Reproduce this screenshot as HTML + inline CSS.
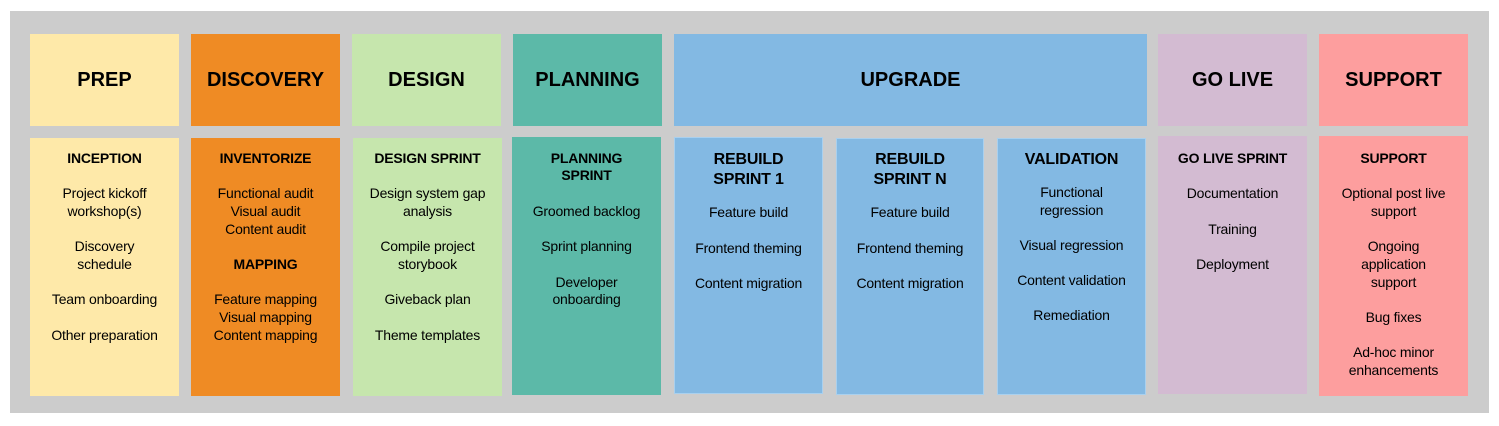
<!DOCTYPE html>
<html><head><meta charset="utf-8"><style>
body{margin:0;width:1499px;height:426px;background:#fff;position:relative;overflow:hidden;font-family:"Liberation Sans",Arial,sans-serif;color:#000}
.bg{position:absolute;left:10px;top:11px;width:1479px;height:402px;background:#cccccc}
.b{position:absolute}
.h{position:absolute;top:34px;height:92px;line-height:92px;text-align:center;font-weight:bold;font-size:20px;color:#000}
.t{position:absolute;text-align:center;font-size:14px;line-height:18px;height:18px;white-space:nowrap;letter-spacing:-0.2px}
.bd{font-weight:bold}
.b16{font-weight:bold;font-size:16px}
</style></head><body>
<div class="bg"></div>
<div class="h" style="left:30px;width:149px;background:#fee9a9">PREP</div>
<div class="h" style="left:191px;width:149px;background:#ef8b24">DISCOVERY</div>
<div class="h" style="left:352px;width:149px;background:#c6e6ad">DESIGN</div>
<div class="h" style="left:513px;width:149px;background:#5cb9a8">PLANNING</div>
<div class="h" style="left:674px;width:473px;background:#83b9e3">UPGRADE</div>
<div class="h" style="left:1158px;width:149px;background:#d3bbd2">GO LIVE</div>
<div class="h" style="left:1319px;width:149px;background:#fd9e9e">SUPPORT</div>
<div class="b" style="left:30px;top:138px;width:149px;height:258px;background:#fee9a9"></div>
<div class="b" style="left:191px;top:138px;width:149px;height:258px;background:#ef8b24"></div>
<div class="b" style="left:353px;top:138px;width:149px;height:258px;background:#c6e6ad"></div>
<div class="b" style="left:512px;top:137px;width:149px;height:258px;background:#5cb9a8"></div>
<div class="b" style="left:675px;top:138px;width:147px;height:255px;background:#83b9e3;outline:1px solid #a9d0ee"></div>
<div class="b" style="left:837px;top:139px;width:146px;height:255px;background:#83b9e3;outline:1px solid #a9d0ee"></div>
<div class="b" style="left:998px;top:139px;width:147px;height:255px;background:#83b9e3;outline:1px solid #a9d0ee"></div>
<div class="b" style="left:1158px;top:136px;width:149px;height:258px;background:#d3bbd2"></div>
<div class="b" style="left:1319px;top:136px;width:149px;height:260px;background:#fd9e9e"></div>

<div class="t bd" style="left:30px;width:149px;top:149px">INCEPTION</div>
<div class="t" style="left:30px;width:149px;top:184px">Project kickoff</div>
<div class="t" style="left:30px;width:149px;top:202px">workshop(s)</div>
<div class="t" style="left:30px;width:149px;top:237px">Discovery</div>
<div class="t" style="left:30px;width:149px;top:255px">schedule</div>
<div class="t" style="left:30px;width:149px;top:290px">Team onboarding</div>
<div class="t" style="left:30px;width:149px;top:326px">Other preparation</div>
<div class="t bd" style="left:191px;width:149px;top:149px">INVENTORIZE</div>
<div class="t" style="left:191px;width:149px;top:184px">Functional audit</div>
<div class="t" style="left:191px;width:149px;top:202px">Visual audit</div>
<div class="t" style="left:191px;width:149px;top:220px">Content audit</div>
<div class="t bd" style="left:191px;width:149px;top:255px">MAPPING</div>
<div class="t" style="left:191px;width:149px;top:290px">Feature mapping</div>
<div class="t" style="left:191px;width:149px;top:308px">Visual mapping</div>
<div class="t" style="left:191px;width:149px;top:326px">Content mapping</div>
<div class="t bd" style="left:353px;width:149px;top:149px">DESIGN SPRINT</div>
<div class="t" style="left:353px;width:149px;top:184px">Design system gap</div>
<div class="t" style="left:353px;width:149px;top:202px">analysis</div>
<div class="t" style="left:353px;width:149px;top:237px">Compile project</div>
<div class="t" style="left:353px;width:149px;top:255px">storybook</div>
<div class="t" style="left:353px;width:149px;top:290px">Giveback plan</div>
<div class="t" style="left:353px;width:149px;top:326px">Theme templates</div>
<div class="t bd" style="left:512px;width:149px;top:149px">PLANNING</div>
<div class="t bd" style="left:512px;width:149px;top:166px">SPRINT</div>
<div class="t" style="left:512px;width:149px;top:202px">Groomed backlog</div>
<div class="t" style="left:512px;width:149px;top:237px">Sprint planning</div>
<div class="t" style="left:512px;width:149px;top:273px">Developer</div>
<div class="t" style="left:512px;width:149px;top:290px">onboarding</div>
<div class="t b16" style="left:675px;width:147px;top:150px;height:20px;line-height:20px">REBUILD</div>
<div class="t b16" style="left:675px;width:147px;top:170px;height:20px;line-height:20px">SPRINT 1</div>
<div class="t" style="left:675px;width:147px;top:203px">Feature build</div>
<div class="t" style="left:675px;width:147px;top:239px">Frontend theming</div>
<div class="t" style="left:675px;width:147px;top:274px">Content migration</div>
<div class="t b16" style="left:837px;width:146px;top:150px;height:20px;line-height:20px">REBUILD</div>
<div class="t b16" style="left:837px;width:146px;top:170px;height:20px;line-height:20px">SPRINT N</div>
<div class="t" style="left:837px;width:146px;top:203px">Feature build</div>
<div class="t" style="left:837px;width:146px;top:239px">Frontend theming</div>
<div class="t" style="left:837px;width:146px;top:274px">Content migration</div>
<div class="t b16" style="left:998px;width:147px;top:150px;height:20px;line-height:20px">VALIDATION</div>
<div class="t" style="left:998px;width:147px;top:183px">Functional</div>
<div class="t" style="left:998px;width:147px;top:201px">regression</div>
<div class="t" style="left:998px;width:147px;top:236px">Visual regression</div>
<div class="t" style="left:998px;width:147px;top:271px">Content validation</div>
<div class="t" style="left:998px;width:147px;top:306px">Remediation</div>
<div class="t bd" style="left:1158px;width:149px;top:149px">GO LIVE SPRINT</div>
<div class="t" style="left:1158px;width:149px;top:184px">Documentation</div>
<div class="t" style="left:1158px;width:149px;top:220px">Training</div>
<div class="t" style="left:1158px;width:149px;top:255px">Deployment</div>
<div class="t bd" style="left:1319px;width:149px;top:149px">SUPPORT</div>
<div class="t" style="left:1319px;width:149px;top:184px">Optional post live</div>
<div class="t" style="left:1319px;width:149px;top:202px">support</div>
<div class="t" style="left:1319px;width:149px;top:237px">Ongoing</div>
<div class="t" style="left:1319px;width:149px;top:255px">application</div>
<div class="t" style="left:1319px;width:149px;top:273px">support</div>
<div class="t" style="left:1319px;width:149px;top:308px">Bug fixes</div>
<div class="t" style="left:1319px;width:149px;top:343px">Ad-hoc minor</div>
<div class="t" style="left:1319px;width:149px;top:361px">enhancements</div>
</body></html>
